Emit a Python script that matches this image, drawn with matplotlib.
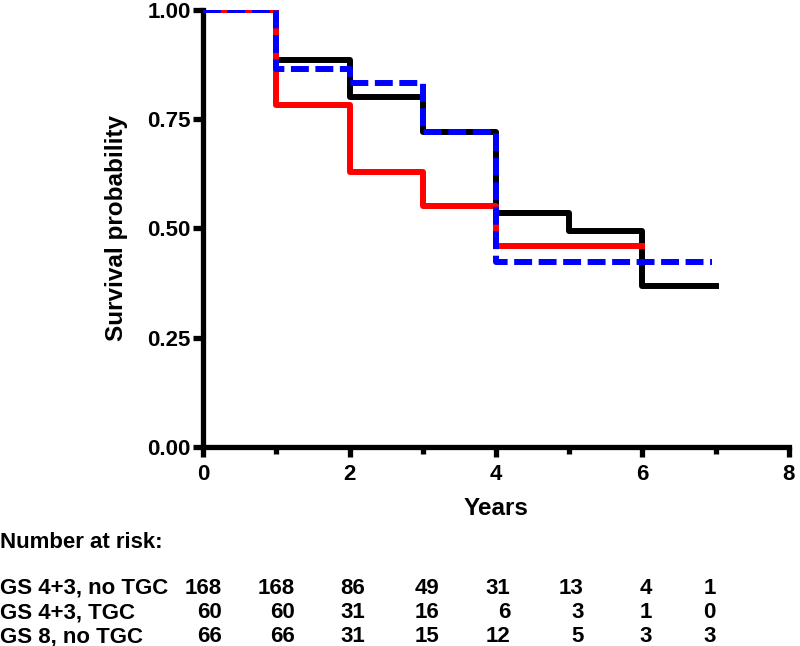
import matplotlib
matplotlib.use("Agg")
import matplotlib.pyplot as plt
import matplotlib.transforms as mtransforms

plt.rcParams['font.family'] = ['Liberation Sans', 'DejaVu Sans']
plt.rcParams['font.weight'] = 'bold'

# survival curves (years, probability)
years_a = [0, 1, 2, 3, 4, 5, 6, 7]
surv_a = [1.00, 0.886, 0.801, 0.721, 0.535, 0.494, 0.368, 0.368]   # GS 4+3, no TGC
years_b = [0, 1, 2, 3, 4, 6]
surv_b = [1.00, 0.783, 0.629, 0.551, 0.460, 0.460]                  # GS 4+3, TGC
years_c = [0, 1, 2, 3, 4, 6.95]
surv_c = [1.00, 0.865, 0.833, 0.721, 0.423, 0.423]                  # GS 8, no TGC

# number at risk table
risk_labels = ["GS 4+3, no TGC", "GS 4+3, TGC", "GS 8, no TGC"]
risk_a = [168, 168, 86, 49, 31, 13, 4, 1]
risk_b = [60, 60, 31, 16, 6, 3, 1, 0]
risk_c = [66, 66, 31, 15, 12, 5, 3, 3]
risk_cols_x = [0.26, 1.25, 2.21, 3.23, 4.2, 5.2, 6.13, 7.0]  # right edges (years)

fig = plt.figure(figsize=(8, 6.46), dpi=100)
ax = fig.add_axes([0.254, 0.308, 0.732, 0.677])

lw = 4.3
ax.step(years_a, surv_a, where='post', color='black', lw=lw, zorder=3)
ax.step(years_b, surv_b, where='post', color='#ff0000', lw=lw, zorder=4)
ax.step(years_c, surv_c, where='post', color='#0000ff', lw=lw, zorder=5,
        dashes=(3.0, 1.1))

ax.set_xlim(0, 8)
ax.set_ylim(0, 1)
ax.set_xticks([0, 2, 4, 6, 8])
ax.set_xticks([1, 3, 5, 7], minor=True)
ax.set_yticks([0, 0.25, 0.5, 0.75, 1.0])
ax.set_yticklabels(["0.00", "0.25", "0.50", "0.75", "1.00"])

for s in ['top', 'right']:
    ax.spines[s].set_visible(False)
for s in ['left', 'bottom']:
    ax.spines[s].set_linewidth(3.8)
    ax.spines[s].set_capstyle('projecting')

ax.tick_params(axis='both', which='major', length=7, width=3.8,
               labelsize=16, pad=2)
ax.tick_params(axis='x', which='major', pad=5)
ax.tick_params(axis='x', which='minor', length=5, width=3.8)
for lab in ax.get_xticklabels() + ax.get_yticklabels():
    lab.set_fontweight('bold')

ax.set_xlabel("Years", fontsize=17.5, fontweight='bold', labelpad=9)
ax.set_ylabel("Survival probability", fontsize=17.5, fontweight='bold', labelpad=14)

# number at risk table below the plot
trans = mtransforms.blended_transform_factory(ax.transData, fig.transFigure)
fig.text(0.0, 1 - 542 / 646, "Number at risk:", fontsize=16,
         fontweight='bold', va='center', ha='left')
row_y = [1 - 588 / 646, 1 - 613 / 646, 1 - 637 / 646]
for label, counts, y in zip(risk_labels, [risk_a, risk_b, risk_c], row_y):
    fig.text(0.0, y, label, fontsize=16, fontweight='bold', va='center', ha='left')
    for xc, n in zip(risk_cols_x, counts):
        ax.text(xc, y, str(n), transform=trans, fontsize=16, fontweight='bold',
                va='center', ha='right', clip_on=False)

fig.savefig("out.png", dpi=100)
